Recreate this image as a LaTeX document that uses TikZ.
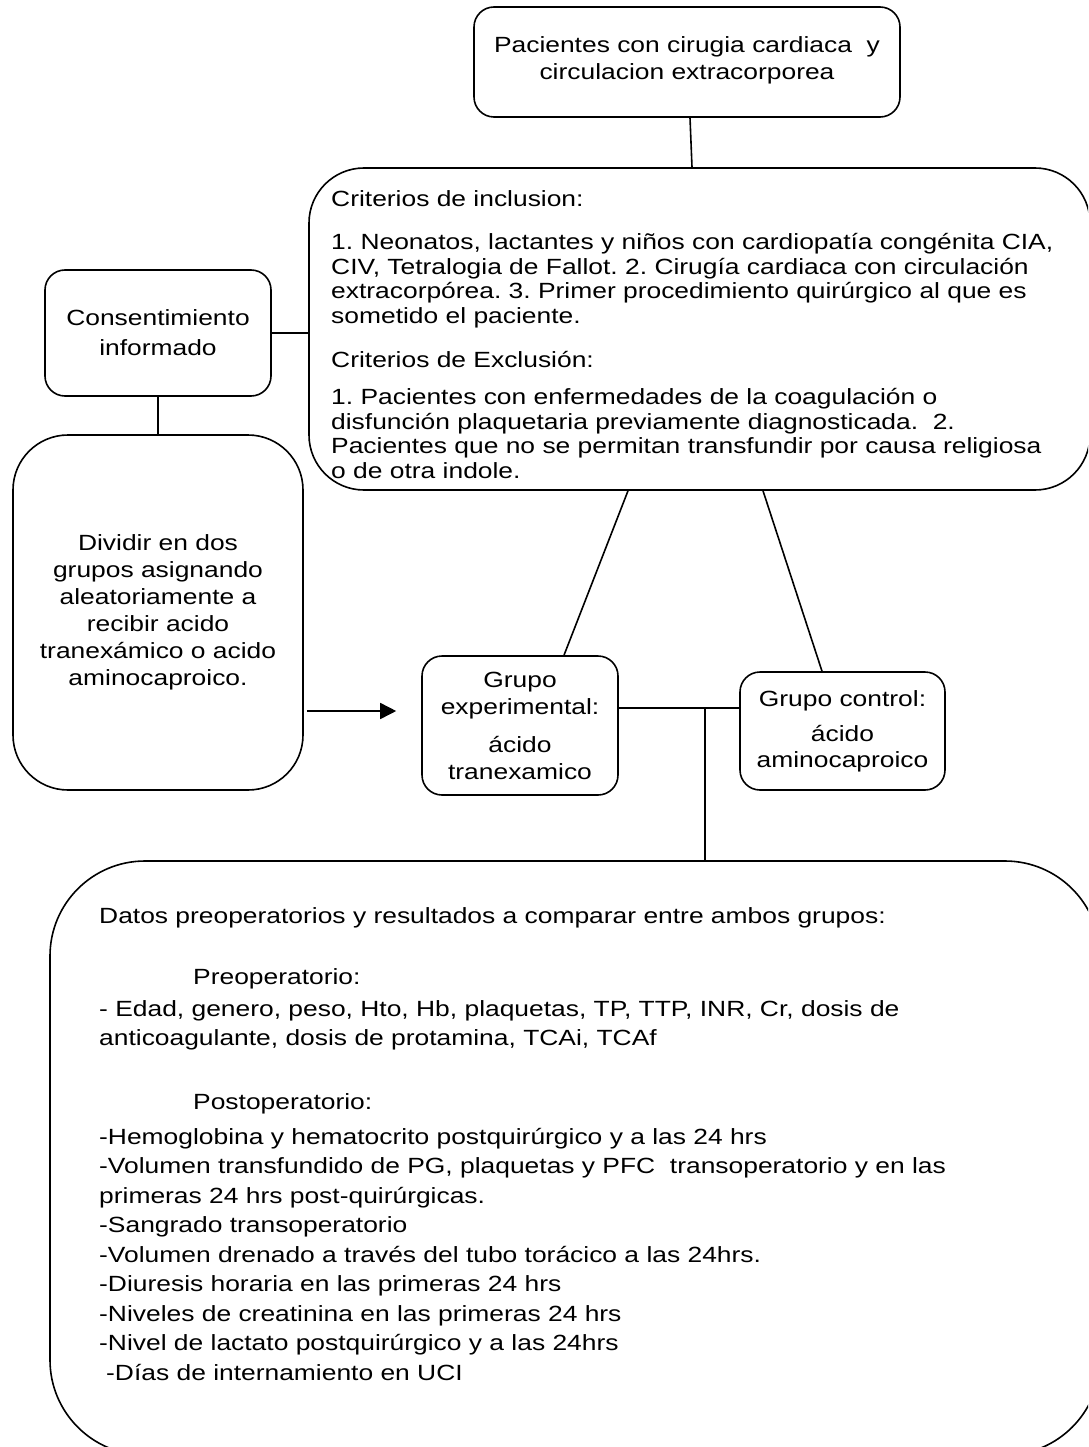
\documentclass[tikz,border=0pt]{standalone}
\usepackage{fontspec}
\setmainfont{Liberation Sans}[FakeStretch=1.2]
\usepackage{tikz}
\usetikzlibrary{arrows.meta, positioning, calc}
\frenchspacing

\begin{document}
\begin{tikzpicture}[
    x=1pt, y=-1pt,
    box/.style={draw, line width=1.6pt, rounded corners=20pt, inner sep=0pt, align=center, font=\fontsize{22pt}{27pt}\selectfont},
    bigbox/.style={draw, line width=1.6pt, rounded corners=55pt, inner sep=0pt},
    textblock/.style={anchor=north west, inner sep=0pt, align=left},
    link/.style={line width=1.6pt},
    arrowline/.style={-{Triangle[length=16pt, width=16pt]}, line width=1.6pt}
]
    \useasboundingbox (0,0) rectangle (1088,1447);
    \fill[white] (0,0) rectangle (1088,1447);
    \clip (0,0) rectangle (1088,1447);

    % Top box
    \node[box, minimum width=426pt, minimum height=110pt, text depth=8pt] (pacientes) at (687,62) {Pacientes con cirugia cardiaca\ \ y\\circulacion extracorporea};

    % Criteria box
    \node[bigbox, minimum width=781pt, minimum height=322pt] (criterios) at (699.5,329) {};
    \node[textblock, font=\fontsize{22pt}{24.5pt}\selectfont] (criteriostexto) at (331,190) {Criterios de inclusion:\\[19pt]
1. Neonatos, lactantes y niños con cardiopatía congénita CIA,\\
CIV, Tetralogia de Fallot. 2. Cirugía cardiaca con circulación\\
extracorpórea. 3. Primer procedimiento quirúrgico al que es\\
sometido el paciente.\\[20pt]
Criterios de Exclusión:\\[12.5pt]
1. Pacientes con enfermedades de la coagulación o\\
disfunción plaquetaria previamente diagnosticada.\ \ 2.\\
Pacientes que no se permitan transfundir por causa religiosa\\
o de otra indole.};

    % Left boxes
    \node[box, minimum width=226pt, minimum height=126pt, font=\fontsize{22pt}{30pt}\selectfont] (consent) at (158,333) {Consentimiento\\informado};
    \node[box, rounded corners=55pt, minimum width=290pt, minimum height=355pt] (dividir) at (158,612.5) {Dividir en dos\\grupos asignando\\aleatoriamente a\\recibir acido\\tranexámico o acido\\aminocaproico.};

    % Groups
    \node[box, minimum width=196pt, minimum height=139pt] (grupoexp) at (520,725.5) {Grupo\\experimental:\\[11pt]ácido\\tranexamico};
    \node[box, minimum width=205pt, minimum height=118pt, font=\fontsize{22pt}{26pt}\selectfont] (grupoctrl) at (842.5,731) {Grupo control:\\[9pt]ácido\\aminocaproico};

    % Bottom box
    \node[bigbox, rounded corners=95pt, minimum width=1050pt, minimum height=594pt] (datos) at (575,1158) {};
    \node[textblock, font=\fontsize{22pt}{29.5pt}\selectfont] (datostexto) at (99,907) {Datos preoperatorios y resultados a comparar entre ambos grupos:\\[31.5pt]
\hspace*{94pt}Preoperatorio:\\[2.5pt]
- Edad, genero, peso, Hto, Hb, plaquetas, TP, TTP, INR, Cr, dosis de\\
anticoagulante, dosis de protamina, TCAi, TCAf\\[34pt]
\hspace*{94pt}Postoperatorio:\\[5.5pt]
-Hemoglobina y hematocrito postquirúrgico y a las 24 hrs\\
-Volumen transfundido de PG, plaquetas y PFC\ \ transoperatorio y en las\\
primeras 24 hrs post-quirúrgicas.\\
-Sangrado transoperatorio\\
-Volumen drenado a través del tubo torácico a las 24hrs.\\
-Diuresis horaria en las primeras 24 hrs\\
-Niveles de creatinina en las primeras 24 hrs\\
-Nivel de lactato postquirúrgico y a las 24hrs\\
\hspace*{7pt}-Días de internamiento en UCI};

    % Connectors
    \coordinate (junction) at (705,708);
    \draw[link] ([xshift=3pt]pacientes.south) -- ([xshift=-7.5pt]criterios.north);
    \draw[link] (consent.east) -- (consent.east -| criterios.west);
    \draw[link] (consent.south) -- (dividir.north);
    \draw[link] ([xshift=-71.5pt]criterios.south) -- ([xshift=44pt]grupoexp.north);
    \draw[link] ([xshift=63.5pt]criterios.south) -- ([xshift=-20.5pt]grupoctrl.north);
    \draw[arrowline] ([shift={(3,98.5)}]dividir.east) -- ([shift={(-25,-14.5)}]grupoexp.west);
    \draw[link] (grupoexp.east |- junction) -- (grupoctrl.west |- junction);
    \draw[link] (junction) -- (junction |- datos.north);
\end{tikzpicture}
\end{document}
